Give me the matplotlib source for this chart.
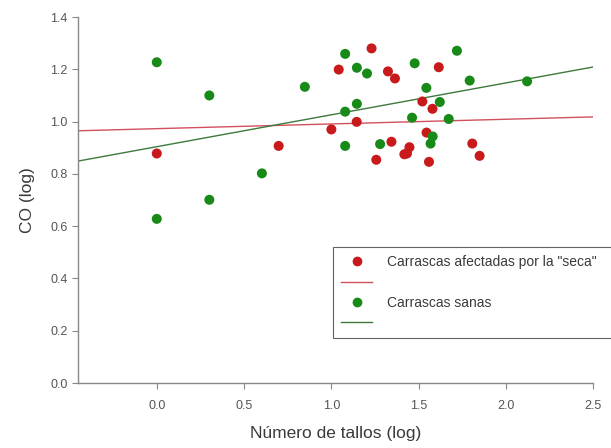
import matplotlib.pyplot as plt
from matplotlib.lines import Line2D
import numpy as np

plt.rcParams['font.family'] = ['Liberation Sans', 'DejaVu Sans']

# Carrascas afectadas por la "seca"
x_seca = [0.0, 0.698, 1.0, 1.042, 1.145, 1.230, 1.257, 1.324, 1.364, 1.344,
          1.418, 1.433, 1.447, 1.521, 1.545, 1.559, 1.579, 1.615, 1.807, 1.849]
y_seca = [0.878, 0.907, 0.970, 1.199, 0.999, 1.280, 0.854, 1.192, 1.165, 0.923,
          0.875, 0.878, 0.902, 1.077, 0.958, 0.846, 1.049, 1.208, 0.916, 0.869]

# Carrascas sanas
x_sanas = [0.0, 0.0, 0.301, 0.301, 0.602, 0.848, 1.079, 1.079, 1.079, 1.146,
           1.146, 1.204, 1.279, 1.462, 1.477, 1.544, 1.568, 1.580, 1.621, 1.672,
           1.719, 1.792, 2.121]
y_sanas = [1.227, 0.628, 1.100, 0.701, 0.802, 1.133, 1.259, 1.038, 0.907, 1.206,
           1.068, 1.184, 0.914, 1.015, 1.223, 1.129, 0.916, 0.943, 1.075, 1.010,
           1.271, 1.157, 1.154]

# rectas de regresión (ordenada, pendiente)
recta_seca = (0.973, 0.018)
recta_sanas = (0.904, 0.122)

xlim = (-0.45, 2.5)
xticks = [0.0, 0.5, 1.0, 1.5, 2.0, 2.5]
yticks = [0.0, 0.2, 0.4, 0.6, 0.8, 1.0, 1.2, 1.4]

rojo = '#c81a1a'
verde = '#178a17'
linea_roja = '#d2505e'
linea_verde = '#3d7a3d'
gris = '#888888'
texto = '#3a3a3a'

fig = plt.figure(figsize=(6.11, 4.48), dpi=100)
ax = fig.add_axes([0.128, 0.145, 0.843, 0.817])

xx = np.array(xlim)
ax.plot(xx, recta_seca[0] + recta_seca[1] * xx, color=linea_roja, lw=1.0, zorder=2)
ax.plot(xx, recta_sanas[0] + recta_sanas[1] * xx, color=linea_verde, lw=1.0, zorder=2)

ax.scatter(x_seca, y_seca, s=52, color=rojo, edgecolors='none', zorder=3)
ax.scatter(x_sanas, y_sanas, s=52, color=verde, edgecolors='none', zorder=3)

ax.set_xlim(*xlim)
ax.set_ylim(0, 1.4)
ax.set_xticks(xticks)
ax.set_xticklabels([f'{t:.1f}' for t in xticks])
ax.set_yticks(yticks)
ax.set_yticklabels([f'{t:.1f}' for t in yticks])

for s in ['top', 'right']:
    ax.spines[s].set_visible(False)
for s in ['left', 'bottom']:
    ax.spines[s].set_color(gris)
    ax.spines[s].set_linewidth(1.0)
ax.tick_params(colors=gris, labelcolor='#555555', labelsize=9, length=4, direction='out')
ax.tick_params(axis='x', pad=8)

ax.set_xlabel('Número de tallos (log)', fontsize=12.5, color=texto, labelpad=10)
ax.set_ylabel('CO (log)', fontsize=12.5, color=texto, labelpad=11)

handles = [
    Line2D([], [], marker='o', ls='none', color=rojo, markersize=6),
    Line2D([], [], color=linea_roja, lw=1.0),
    Line2D([], [], marker='o', ls='none', color=verde, markersize=6),
    Line2D([], [], color=linea_verde, lw=1.0),
]
labels = ['Carrascas afectadas por la "seca"', '', 'Carrascas sanas', '']
leg = fig.legend(handles, labels, loc='upper left',
                 bbox_to_anchor=(0.545, 0.149, 0.47, 0.3), mode='expand',
                 fontsize=10, frameon=True, fancybox=False, edgecolor=texto,
                 handlelength=2.2, labelspacing=0.45, borderpad=0.6,
                 handletextpad=1.1, borderaxespad=0)
leg.get_frame().set_linewidth(0.8)
for t in leg.get_texts():
    t.set_color(texto)

fig.savefig('out.png', dpi=100)
